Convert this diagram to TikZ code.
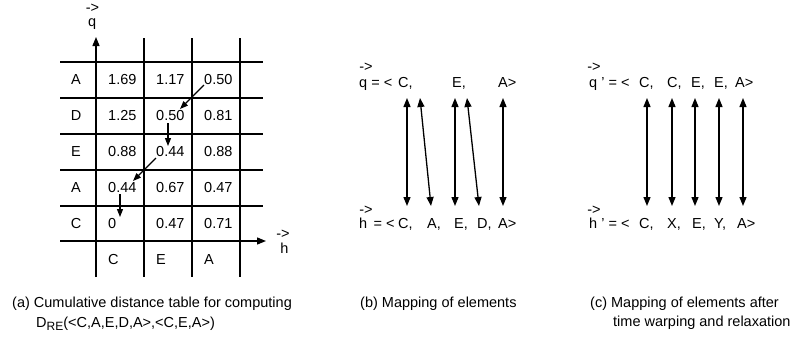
\documentclass[tikz,border=0pt]{standalone}
\usepackage{fontspec}
\setmainfont{Liberation Sans}
\usetikzlibrary{arrows.meta}
\tikzset{
  grid/.style={line width=1.3pt},
  axis/.style={line width=1.3pt,-{Triangle[length=9pt,width=7pt]}},
  arr/.style={line width=1.1pt,-{Triangle[length=8pt,width=6pt]}},
  dbl/.style={line width=1.3pt,{Triangle[length=9pt,width=7pt]}-{Triangle[length=9pt,width=7pt]}},
  txt/.style={inner sep=0pt,anchor=base west},
  lbl/.style={inner sep=0pt},
  vec/.style={inner sep=0pt,anchor=base,text height=0pt,text depth=0pt},
  cell/.style={inner sep=0pt,anchor=west},
}
\begin{document}
\begin{tikzpicture}[x=1pt,y=-1pt,font=\fontsize{14.5}{17}\selectfont]
\path[use as bounding box] (0,0) rectangle (792,346);
% ---------- (a) table ----------
\foreach \yy in {62,98,134,170,206} \draw[grid] (60,\yy) -- (263,\yy);
\foreach \xx in {144,192,240} \draw[grid] (\xx,38) -- (\xx,277);
\coordinate (q0) at (96,277);
\coordinate (q1) at (96,37);
\coordinate (h0) at (60,241);
\coordinate (h1) at (266,241);
\draw[axis] (q0) -- (q1);
\draw[axis] (h0) -- (h1);
\node[vec] (qarr) at (92.5,12) {->};
\node[txt] (qlab) at (88,26) {q};
\node[vec] (harr) at (283,238) {->};
\node[lbl] (hlab) at (284.5,248) {h};
% row labels
\node[lbl] (rA1) at (76,80) {A};
\node[lbl] (rD) at (76,116) {D};
\node[lbl] (rE) at (76,152) {E};
\node[lbl] (rA2) at (76,188) {A};
\node[lbl] (rC) at (76,224) {C};
% column labels
\node[cell] (cC) at (108,260) {C};
\node[cell] (cE) at (156,260) {E};
\node[cell] (cA) at (204,260) {A};
% values
\node[cell] (n11) at (108,80) {1.69};
\node[cell] (n12) at (156,80) {1.17};
\node[cell] (n13) at (204,80) {0.50};
\node[cell] (n21) at (108,116) {1.25};
\node[cell] (n22) at (156,116) {0.50};
\node[cell] (n23) at (204,116) {0.81};
\node[cell] (n31) at (108,152) {0.88};
\node[cell] (n32) at (156,152) {0.44};
\node[cell] (n33) at (204,152) {0.88};
\node[cell] (n41) at (108,188) {0.44};
\node[cell] (n42) at (156,188) {0.67};
\node[cell] (n43) at (204,188) {0.47};
\node[cell] (n51) at (108,224) {0};
\node[cell] (n52) at (156,224) {0.47};
\node[cell] (n53) at (204,224) {0.71};
\draw[arr] ([shift={(0,5)}]n13.west) -- ([shift={(24,-7)}]n22.west);
\draw[arr] ([shift={(12,7)}]n22.west) -- ([shift={(12,-6)}]n32.west);
\draw[arr] ([shift={(0,6)}]n32.west) -- ([shift={(25,-7)}]n41.west);
\draw[arr] ([shift={(12,6)}]n41.west) -- ([shift={(12,-7)}]n51.west);
% ---------- (b) ----------
\node[vec] (bqa) at (366,71) {->};
\node[txt] (bq) at (359,87) {q = <};
\node[txt] (bq1) at (398,87) {C,};
\node[txt] (bq2) at (452,87) {E,};
\node[txt] (bq3) at (498,87) {A>};
\node[vec] (bha) at (366,214) {->};
\node[txt] (bh) at (359,228) {h \,= <};
\node[txt] (bh1) at (398,228) {C,};
\node[txt] (bh2) at (427,228) {A,};
\node[txt] (bh3) at (454,228) {E,};
\node[txt] (bh4) at (477,228) {D,};
\node[txt] (bh5) at (498,228) {A>};
\coordinate (bt1) at (407,98);  \coordinate (bb1) at (407,206);
\coordinate (bt2) at (420,98);  \coordinate (bb2) at (431,206);
\coordinate (bt3) at (455,98);  \coordinate (bb3) at (455,206);
\coordinate (bt4) at (467,98);  \coordinate (bb4) at (479,206);
\coordinate (bt5) at (503,98);  \coordinate (bb5) at (503,206);
\foreach \i in {1,...,5} \draw[dbl] (bt\i) -- (bb\i);
% ---------- (c) ----------
\node[vec] (cqa) at (594,71) {->};
\node[txt] (cq) at (589,87) {q ’ = <};
\node[txt] (cq1) at (639,87) {C,};
\node[txt] (cq2) at (667,87) {C,};
\node[txt] (cq3) at (691,87) {E,};
\node[txt] (cq4) at (714,87) {E,};
\node[txt] (cq5) at (735,87) {A>};
\node[vec] (cha) at (594,214) {->};
\node[txt] (ch) at (589,228) {h ’ = <};
\node[txt] (ch1) at (639,228) {C,};
\node[txt] (ch2) at (667,228) {X,};
\node[txt] (ch3) at (692,228) {E,};
\node[txt] (ch4) at (714,228) {Y,};
\node[txt] (ch5) at (737,228) {A>};
\coordinate (ct1) at (647,98);  \coordinate (cb1) at (647,206);
\coordinate (ct2) at (672,98);  \coordinate (cb2) at (672,206);
\coordinate (ct3) at (695,98);  \coordinate (cb3) at (695,206);
\coordinate (ct4) at (719,98);  \coordinate (cb4) at (719,206);
\coordinate (ct5) at (743,98);  \coordinate (cb5) at (743,206);
\foreach \i in {1,...,5} \draw[dbl] (ct\i) -- (cb\i);
% ---------- captions ----------
\node[txt] (capa) at (12,307) {(a) Cumulative distance table for computing};
\node[txt] (capa2) at (36,327) {D\raisebox{-3pt}{\fontsize{12}{12}\selectfont RE}(<C,A,E,D,A>,<C,E,A>)};
\node[txt] (capb) at (360,307) {(b) Mapping of elements};
\node[txt] (capc) at (590,307) {(c) Mapping of elements after};
\node[txt] (capc2) at (613,326) {time warping and relaxation};
\end{tikzpicture}
\end{document}
